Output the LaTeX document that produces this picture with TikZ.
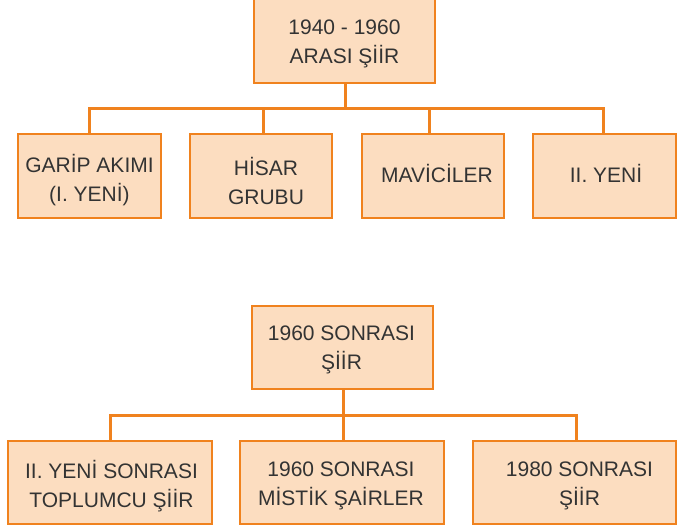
\documentclass[tikz,border=0pt]{standalone}
\usepackage{fontspec}
\setmainfont{Liberation Sans}
\definecolor{boxfill}{HTML}{FCDDC0}
\definecolor{boxline}{HTML}{F0821E}
\definecolor{txt}{HTML}{333333}
\begin{document}
\begin{tikzpicture}[x=1pt,y=-1pt,
  box/.style={draw=boxline, fill=boxfill, line width=2pt, inner sep=0pt},
  lbl/.style={text=txt, font=\fontsize{21}{29}\selectfont, align=center, inner sep=0pt},
  conn/.style={draw=boxline, line width=3pt, line join=miter}]
\useasboundingbox (0,0) rectangle (697,530);
\clip (0,0) rectangle (697,530);
% ---- top tree
\node[box, minimum width=181, minimum height=87] (top) at (344.5,39.5) {};
\node[box, minimum width=143, minimum height=84] (b1) at (89.5,176) {};
\node[box, minimum width=142, minimum height=84] (b2) at (261,176) {};
\node[box, minimum width=142, minimum height=84] (b3) at (433,176) {};
\node[box, minimum width=143, minimum height=84] (b4) at (604.5,176) {};
\coordinate (j0) at (345,108);
\coordinate (j1) at (89,108);
\coordinate (j2) at (263,108);
\coordinate (j3) at (429,108);
\coordinate (j4) at (603,108);
% ---- bottom tree
\node[box, minimum width=181, minimum height=83] (top2) at (342.5,347.5) {};
\node[box, minimum width=204, minimum height=83] (c1) at (110,482.5) {};
\node[box, minimum width=204, minimum height=83] (c2) at (342,482.5) {};
\node[box, minimum width=203, minimum height=83] (c3) at (574.5,482.5) {};
\coordinate (k1) at (110,415);
\coordinate (k2) at (343,415);
\coordinate (k3) at (576,415);
% connectors
\draw[conn] (top.south -| j0) -- (j0);
\draw[conn] (j1 |- b1.north) -- (j1) -- (j4) -- (j4 |- b4.north);
\draw[conn] (j2) -- (j2 |- b2.north);
\draw[conn] (j3) -- (j3 |- b3.north);
\draw[conn] (top2.south -| k2) -- (k2 |- c2.north);
\draw[conn] (k1 |- c1.north) -- (k1) -- (k3) -- (k3 |- c3.north);
% labels
\node[lbl] (t0) at (344.5,44) {1940 - 1960\\ARASI ŞİİR};
\node[lbl] (t1) at (89.5,180) {GARİP AKIMI\\(I. YENİ)};
\node[lbl] (t2) at (266,180.5) {HİSAR\\GRUBU};
\node[lbl] (t3) at (437,173) {MAVİCİLER};
\node[lbl] (t4) at (606,173) {II. YENİ};
\node[lbl] (u0) at (341.5,349.5) {1960 SONRASI\\ŞİİR};
\node[lbl] (u1) at (111.5,486) {II. YENİ SONRASI\\TOPLUMCU ŞİİR};
\node[lbl] (u2) at (341,486) {1960 SONRASI\\MİSTİK ŞAİRLER};
\node[lbl] (u3) at (579.5,486) {1980 SONRASI\\ŞİİR};
\end{tikzpicture}
\end{document}
